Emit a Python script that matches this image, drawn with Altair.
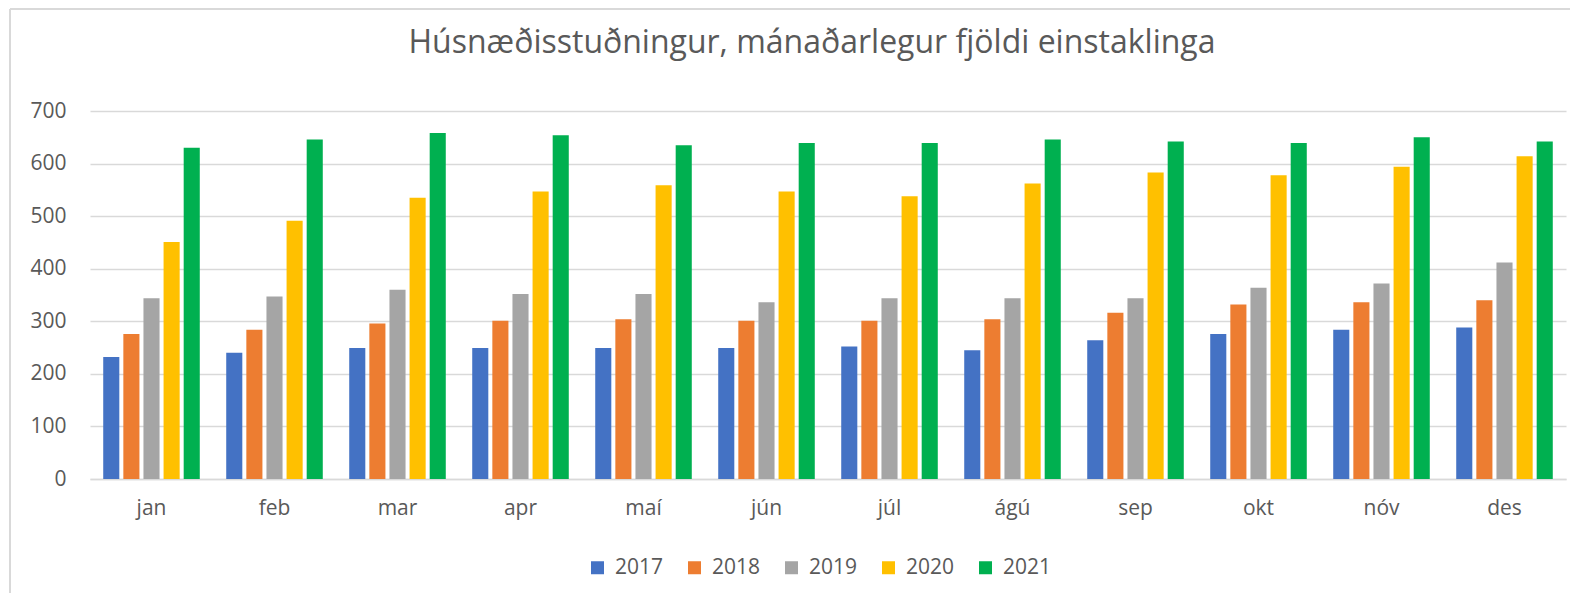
import altair as alt
import pandas as pd

months = ["jan", "feb", "mar", "apr", "maí", "jún", "júl", "ágú", "sep", "okt", "nóv", "des"]
years = ["2017", "2018", "2019", "2020", "2021"]
v2017 = [232, 240, 249, 249, 249, 249, 252, 245, 264, 276, 284, 288]
v2018 = [276, 284, 296, 301, 304, 301, 301, 304, 316, 332, 336, 340]
v2019 = [344, 347, 360, 352, 352, 336, 344, 344, 344, 364, 372, 412]
v2020 = [451, 491, 535, 547, 559, 547, 538, 562, 583, 578, 594, 614]
v2021 = [630, 646, 658, 654, 635, 639, 639, 646, 642, 639, 650, 642]
colors = ["#4472C4", "#ED7D31", "#A5A5A5", "#FFC000", "#00B050"]
title_text = "Húsnæðisstuðningur, mánaðarlegur fjöldi einstaklinga"

series = [v2017, v2018, v2019, v2020, v2021]
rows = []
for y, vals in zip(years, series):
    for m, v in zip(months, vals):
        rows.append({"month": m, "year": y, "value": v})
df = pd.DataFrame(rows)

FONT = "Open Sans"
GRAY = "#595959"

bars = alt.Chart(df).mark_bar().encode(
    x=alt.X("month:N", sort=months, title=None,
            scale=alt.Scale(paddingInner=0.215, paddingOuter=0.1075),
            axis=alt.Axis(labelAngle=0, ticks=False, grid=False, domainColor="#d9d9d9",
                          domainWidth=1.5, labelPadding=18, labelFontSize=21,
                          labelColor=GRAY, labelFont=FONT)),
    xOffset=alt.XOffset("year:N", sort=years, scale=alt.Scale(paddingInner=0.2)),
    y=alt.Y("value:Q", title=None,
            scale=alt.Scale(domain=[0, 700], nice=False),
            axis=alt.Axis(values=[0, 100, 200, 300, 400, 500, 600, 700], ticks=False,
                          domain=False, gridColor="#d9d9d9", gridWidth=1.5,
                          labelPadding=24, labelFontSize=21, labelColor=GRAY, labelFont=FONT)),
    color=alt.Color("year:N", sort=years, scale=alt.Scale(domain=years, range=colors),
                    legend=alt.Legend(orient="none", direction="horizontal", title=None,
                                      legendX=497, legendY=446, symbolType="square",
                                      symbolSize=169, symbolStrokeWidth=0,
                                      labelFontSize=21, labelColor=GRAY, labelFont=FONT,
                                      labelOffset=7, columnPadding=20)),
)

left_border = alt.Chart(df).mark_rule(color="#d9d9d9", strokeWidth=1.5).encode(
    x=alt.value(-80), y=alt.value(-102), y2=alt.value(490))
top_border = alt.Chart(df).mark_rule(color="#d9d9d9", strokeWidth=1.5).encode(
    x=alt.value(-80), x2=alt.value(1490), y=alt.value(-102))

chart = alt.layer(bars, left_border, top_border).properties(
    width=1476, height=368,
    padding={"left": 82, "top": 103, "right": 4, "bottom": 114},
    autosize=alt.AutoSizeParams(type="none"),
    title=alt.TitleParams(title_text, fontSize=32, font=FONT, color=GRAY, fontWeight="normal",
                          anchor="middle", frame="group", baseline="alphabetic",
                          offset=-77, dx=-16),
).configure_view(stroke=None)

chart.save("out.html", embed_options={"renderer": "svg", "actions": False})
